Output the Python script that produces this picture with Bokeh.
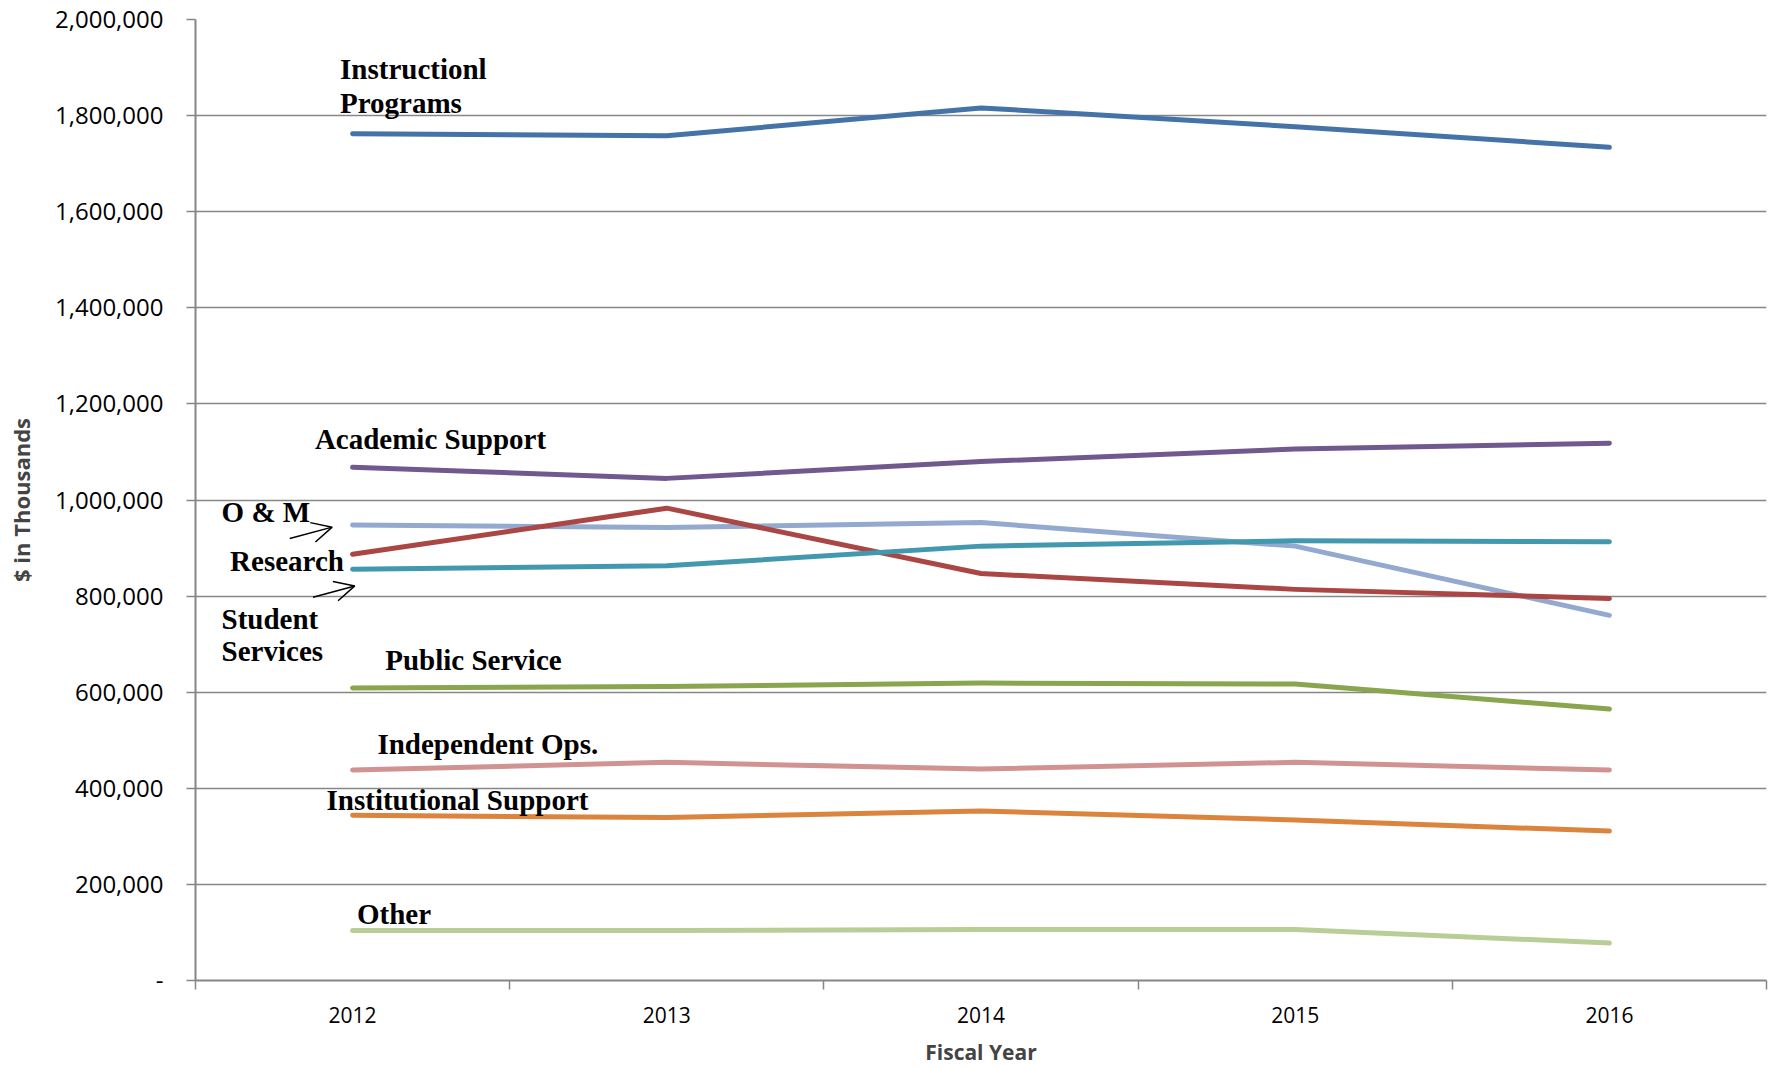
from bokeh.plotting import figure
from bokeh.models import (Range1d, FixedTicker, NumeralTickFormatter, Label, Arrow, OpenHead)
from bokeh.embed import file_html
from bokeh.resources import INLINE

years = ["2012", "2013", "2014", "2015", "2016"]

instructional = [1762000, 1758000, 1816000, 1777000, 1734000]
academic_support = [1068000, 1045000, 1080000, 1106000, 1118000]
o_and_m = [948000, 943000, 953000, 904000, 760000]
research = [887000, 983000, 847000, 814000, 795000]
student_services = [856000, 863000, 904000, 915000, 913000]
public_service = [609000, 612000, 619000, 617000, 565000]
independent_ops = [438000, 454000, 440000, 454000, 438000]
institutional_support = [344000, 339000, 353000, 334000, 311000]
other = [104000, 104000, 106000, 106000, 78000]

y_ticks = [0, 200000, 400000, 600000, 800000, 1000000, 1200000, 1400000, 1600000, 1800000, 2000000]

series = [
    (instructional, "#4572A7"),
    (academic_support, "#71588F"),
    (o_and_m, "#93A9CF"),
    (research, "#AA4643"),
    (student_services, "#4198AF"),
    (public_service, "#89A54E"),
    (independent_ops, "#D09392"),
    (institutional_support, "#DB843D"),
    (other, "#B9CD96"),
]

xs = list(range(len(years)))

p = figure(width=1773, height=1068, output_backend="svg", toolbar_location=None,
           x_range=Range1d(-0.5, len(years) - 0.5), y_range=Range1d(0, 2000000),
           min_border_left=195, min_border_right=7, min_border_top=19, min_border_bottom=88)
p.outline_line_color = None
p.background_fill_color = "white"
p.border_fill_color = "white"

# grid
p.xgrid.grid_line_color = None
p.ygrid.grid_line_color = "#878787"
p.ygrid.grid_line_width = 1.5
p.yaxis.ticker = FixedTicker(ticks=y_ticks)

# x axis: labels at category centres, tick marks at boundaries
p.xaxis.ticker = FixedTicker(ticks=xs, minor_ticks=[i - 0.5 for i in range(len(years) + 1)])
p.xaxis.major_label_overrides = {i: y for i, y in enumerate(years)}
p.xaxis.major_tick_out = 0
p.xaxis.major_tick_in = 0
p.xaxis.minor_tick_out = 9
p.xaxis.minor_tick_in = 0
p.xaxis.minor_tick_line_color = "#868686"
p.xaxis.minor_tick_line_width = 1.5
p.xaxis.axis_line_color = "#868686"
p.xaxis.axis_line_width = 2
p.xaxis.major_label_standoff = 17
p.xaxis.major_label_text_font = "Open Sans"
p.xaxis.major_label_text_font_size = "21px"
p.xaxis.major_label_text_color = "black"
p.xaxis.axis_label = "Fiscal Year"
p.xaxis.axis_label_text_font = "Open Sans"
p.xaxis.axis_label_text_font_style = "bold"
p.xaxis.axis_label_text_font_size = "21px"
p.xaxis.axis_label_standoff = 12

# y axis
p.yaxis.formatter = NumeralTickFormatter(format="0,0")
p.yaxis.major_label_overrides = {0: "-"}
p.yaxis.major_tick_out = 9
p.yaxis.major_tick_in = 0
p.yaxis.minor_tick_line_color = None
p.yaxis.major_tick_line_color = "#868686"
p.yaxis.major_tick_line_width = 1.5
p.yaxis.axis_line_color = "#868686"
p.yaxis.axis_line_width = 2
p.yaxis.major_label_standoff = 23
p.yaxis.major_label_text_font = "Open Sans"
p.yaxis.major_label_text_font_size = "24px"
p.yaxis.major_label_text_color = "black"
p.yaxis.axis_label = "$ in Thousands"
p.yaxis.axis_label_text_font = "Open Sans"
p.yaxis.axis_label_text_font_style = "bold"
p.yaxis.axis_label_text_font_size = "22px"
p.yaxis.axis_label_standoff = 16

for vals, color in series:
    p.line(xs, vals, line_color=color, line_width=5, line_cap="round", line_join="round")

# annotations (label text, x, y)
labels = [
    ("Instructionl", -0.04, 1896000),
    ("Programs", -0.04, 1826000),
    ("Academic Support", -0.12, 1127000),
    ("O & M", -0.417, 974000),
    ("Research", -0.39, 873000),
    ("Student", -0.417, 753000),
    ("Services", -0.417, 685000),
    ("Public Service", 0.104, 666000),
    ("Independent Ops.", 0.079, 492000),
    ("Institutional Support", -0.083, 376000),
    ("Other", 0.014, 139000),
]
for txt, lx, ly in labels:
    p.add_layout(Label(x=lx, y=ly, text=txt, text_font="Liberation Serif",
                       text_font_style="bold", text_font_size="29px",
                       text_baseline="middle", text_align="left", text_color="black"))

arrows = [(-0.2, 920000, -0.065, 943500), (-0.126, 797700, 0.007, 821200)]
for x0, y0, x1, y1 in arrows:
    p.add_layout(Arrow(end=OpenHead(size=20, line_width=1.5, line_color="black"),
                       x_start=x0, y_start=y0, x_end=x1, y_end=y1,
                       line_width=1.5, line_color="black"))

open("out.html", "w").write(file_html(p, INLINE))
